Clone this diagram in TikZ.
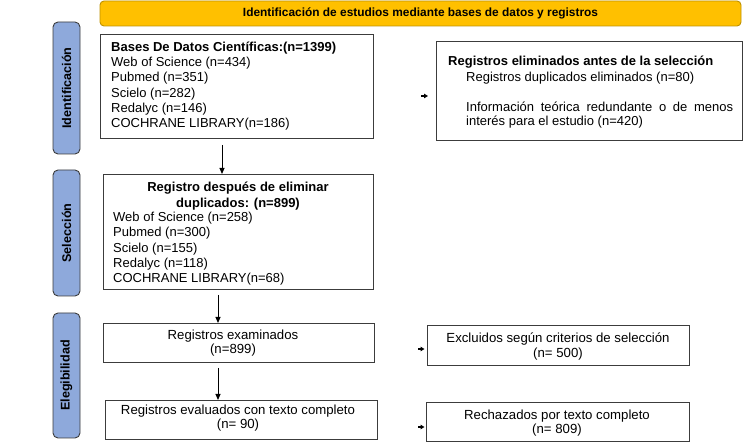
\documentclass[tikz,border=0pt]{standalone}
\usepackage{fontspec}
\setmainfont{Liberation Sans}
\usetikzlibrary{arrows.meta}
\definecolor{bannerfill}{RGB}{255,192,0}
\definecolor{bannerline}{RGB}{190,145,0}
\definecolor{sideblue}{RGB}{142,169,219}
\definecolor{boxline}{RGB}{60,60,60}
\tikzset{
 box/.style={draw=boxline, line width=0.9pt, inner sep=0pt, outer sep=0pt},
 sidebar/.style={draw=boxline, fill=sideblue, rounded corners=5pt, line width=0.9pt, inner sep=0pt, outer sep=0pt, rotate=90, font=\bfseries\fontsize{12.6}{13}\selectfont},
 ln/.style={inner sep=0pt, anchor=base west, font=\fontsize{13}{15}\selectfont},
 lnb/.style={inner sep=0pt, anchor=base west, font=\bfseries\fontsize{13}{15}\selectfont},
 cn/.style={inner sep=0pt, anchor=base, font=\fontsize{13.2}{15}\selectfont},
 cnb/.style={inner sep=0pt, anchor=base, font=\bfseries\fontsize{13}{15}\selectfont},
 arr/.style={-{Triangle[length=6pt,width=5pt]}, line width=0.9pt},
 stub/.style={-{Triangle[length=4pt,width=4.5pt]}, line width=1.3pt},
}
\begin{document}
\begin{tikzpicture}[x=1pt,y=-1pt]
\useasboundingbox (0,0) rectangle (745,443);
% banner
\node[draw=bannerline, fill=bannerfill, rounded corners=4pt, line width=0.9pt, inner sep=0pt,
  minimum width=641pt, minimum height=25pt, font=\bfseries\fontsize{11.9}{13}\selectfont] (ban) at (420.5,13.5)
  {Identificación de estudios mediante bases de datos y registros};
% side bars
\node[sidebar, minimum width=132pt, minimum height=27pt] (s1) at (66.5,88) {Identificación};
\node[sidebar, minimum width=126pt, minimum height=27pt] (s2) at (66.5,233) {Selección};
\node[sidebar, minimum width=125pt, minimum height=27pt] (s3) at (66.5,375.5) {Elegibilidad};
% boxes
\node[box, minimum width=273pt, minimum height=104pt] (b1) at (236.5,86) {};
\node[box, minimum width=306pt, minimum height=99pt] (elim) at (589,90.5) {};
\node[box, minimum width=270pt, minimum height=115pt] (b2) at (238,231.5) {};
\node[box, minimum width=271pt, minimum height=39pt] (b3) at (238.5,342.5) {};
\node[box, minimum width=262pt, minimum height=40pt] (excl) at (558,345) {};
\node[box, minimum width=272pt, minimum height=39pt] (b4) at (241,419.5) {};
\node[box, minimum width=263pt, minimum height=39pt] (rech) at (557.5,421.5) {};
% box 1 text
\node[lnb] (t11) at (111,51.5) {Bases De Datos Científicas:(n=1399)};
\node[ln] (t12) at (111,66.7) {Web of Science (n=434)};
\node[ln] (t13) at (111,81.9) {Pubmed (n=351)};
\node[ln] (t14) at (111,97.1) {Scielo (n=282)};
\node[ln] (t15) at (111,112.3) {Redalyc (n=146)};
\node[ln] (t16) at (111,127.5) {COCHRANE LIBRARY(n=186)};
% eliminated box text
\node[lnb] (e1) at (448,65.5) {Registros eliminados antes de la selección};
\node[ln] (e2) at (466,81.5) {Registros duplicados eliminados (n=80)};
\node[ln] (e3) at (466,111.5) {\makebox[267pt][s]{Información teórica redundante o de menos}};
\node[ln] (e4) at (466,125.5) {interés para el estudio (n=420)};
% box 2 text
\node[cnb] (t21) at (238,191.5) {Registro después de eliminar};
\node[cnb] (t22) at (238,207.5) {duplicados: (n=899)};
\node[ln] (t23) at (113,222) {Web of Science (n=258)};
\node[ln] (t24) at (113,237) {Pubmed (n=300)};
\node[ln] (t25) at (113,253) {Scielo (n=155)};
\node[ln] (t26) at (113,268) {Redalyc (n=118)};
\node[ln] (t27) at (113,283) {COCHRANE LIBRARY(n=68)};
% lower boxes text
\node[cn] (t31) at (233,340) {Registros examinados};
\node[cn] (t32) at (233,353.5) {(n=899)};
\node[cn] (t41) at (238,415) {Registros evaluados con texto completo};
\node[cn] (t42) at (238,428.8) {(n= 90)};
\node[cn] (x1) at (558,343) {Excluidos según criterios de selección};
\node[cn] (x2) at (558,357.8) {(n= 500)};
\node[cn] (r1) at (557,419.5) {Rechazados por texto completo};
\node[cn] (r2) at (557,433.2) {(n= 809)};
% arrows
\coordinate (a1s) at (222,145);
\draw[arr] (a1s) -- (a1s |- b2.north);
\coordinate (a2s) at (218,295);
\draw[arr] (a2s) -- (a2s |- b3.north);
\coordinate (a3s) at (218,368);
\draw[arr] (a3s) -- (a3s |- b4.north);
% stubs
\coordinate (s1a) at (421,96); \coordinate (s1b) at (428,96);
\draw[stub] (s1a) -- (s1b);
\coordinate (s2a) at (418,349); \coordinate (s2b) at (424.5,349);
\draw[stub] (s2a) -- (s2b);
\coordinate (s3a) at (418,427); \coordinate (s3b) at (424.5,427);
\draw[stub] (s3a) -- (s3b);
\end{tikzpicture}
\end{document}
